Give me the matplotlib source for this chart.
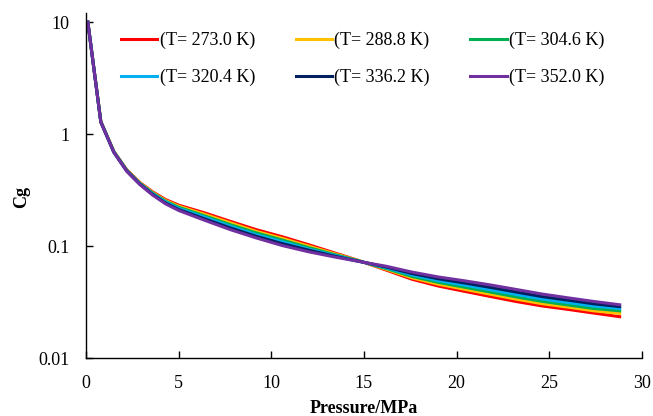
import matplotlib
matplotlib.use('Agg')
import matplotlib.pyplot as plt
from matplotlib.ticker import FixedLocator, FuncFormatter, NullLocator

plt.rcParams['font.family'] = ['Liberation Serif', 'DejaVu Serif']

# pression (MPa)
pressure = [0.1, 0.8, 1.5, 2.2, 2.9, 3.6, 4.3, 5.0, 6.4, 7.8, 9.2, 10.6, 12.0,
            13.4, 14.8, 16.2, 17.6, 19.0, 20.4, 21.8, 23.2, 24.6, 26.0, 27.4, 28.8]

labels = ['(T= 273.0 K)', '(T= 288.8 K)', '(T= 304.6 K)',
          '(T= 320.4 K)', '(T= 336.2 K)', '(T= 352.0 K)']
colors = ['#FF0000', '#FFC000', '#00B050', '#00B0F0', '#002060', '#7030A0']

cg_273 = [10.0, 1.30, 0.70, 0.480, 0.370, 0.305, 0.260, 0.232, 0.198, 0.166, 0.140, 0.121, 0.103,
          0.087, 0.0735, 0.061, 0.0505, 0.0440, 0.0395, 0.0355, 0.0320, 0.0292, 0.0272, 0.0252, 0.0234]
cg_288 = [10.0, 1.30, 0.70, 0.477, 0.367, 0.301, 0.255, 0.227, 0.192, 0.161, 0.135, 0.117, 0.100,
          0.0855, 0.0733, 0.062, 0.0520, 0.0457, 0.0412, 0.0372, 0.0336, 0.0306, 0.0285, 0.0264, 0.0250]
cg_304 = [10.0, 1.29, 0.70, 0.474, 0.364, 0.297, 0.251, 0.222, 0.186, 0.155, 0.131, 0.113, 0.097,
          0.084, 0.0731, 0.063, 0.0535, 0.0474, 0.0430, 0.0389, 0.0352, 0.0321, 0.0298, 0.0277, 0.0264]
cg_320 = [10.0, 1.29, 0.69, 0.471, 0.361, 0.293, 0.247, 0.217, 0.181, 0.150, 0.126, 0.109, 0.094,
          0.0826, 0.0729, 0.064, 0.0552, 0.0492, 0.0449, 0.0408, 0.0370, 0.0337, 0.0313, 0.0291, 0.0277]
cg_336 = [10.0, 1.28, 0.69, 0.468, 0.358, 0.289, 0.242, 0.212, 0.175, 0.145, 0.122, 0.105, 0.092,
          0.0813, 0.0727, 0.065, 0.0568, 0.0511, 0.0469, 0.0428, 0.0389, 0.0354, 0.0329, 0.0305, 0.0288]
cg_352 = [10.0, 1.28, 0.69, 0.465, 0.355, 0.285, 0.238, 0.208, 0.170, 0.140, 0.118, 0.101, 0.089,
          0.080, 0.0725, 0.066, 0.0585, 0.0530, 0.0490, 0.0450, 0.0410, 0.0373, 0.0345, 0.0320, 0.0299]
series = [cg_273, cg_288, cg_304, cg_320, cg_336, cg_352]

fig = plt.figure(figsize=(6.53, 4.16), dpi=100)
ax = fig.add_axes([0.1317, 0.1394, 0.983 - 0.1317, 0.968 - 0.1394])

lines = []
for vals, lab, col in zip(series, labels, colors):
    l, = ax.plot(pressure, vals, color=col, lw=2.2, label=lab)
    lines.append(l)

ax.set_yscale('log')
ax.set_xlim(0, 30)
ax.set_ylim(0.01, 12)
ax.set_xticks([0, 5, 10, 15, 20, 25, 30])
ax.yaxis.set_major_locator(FixedLocator([0.01, 0.1, 1, 10]))
ax.yaxis.set_minor_locator(NullLocator())
ax.yaxis.set_major_formatter(FuncFormatter(lambda v, p: '%g' % v))

for s in ['top', 'right']:
    ax.spines[s].set_visible(False)
ax.spines['left'].set_linewidth(1.0)
ax.spines['bottom'].set_linewidth(1.0)
ax.tick_params(axis='x', direction='in', length=5, width=1, labelsize=13, pad=12)
ax.tick_params(axis='y', direction='in', length=5, width=1, labelsize=13, pad=12)

ax.set_xlabel('Pressure/MPa', fontsize=13, fontweight='bold', labelpad=6)
ax.set_ylabel('Cg', fontsize=13, fontweight='bold')
ax.yaxis.set_label_coords(-0.101, 0.467)

# ordre par lignes (3 colonnes, 2 lignes)
order = [0, 3, 1, 4, 2, 5]
ax.legend([lines[i] for i in order], [labels[i] for i in order],
          ncol=3, frameon=False, fontsize=13, loc='upper left',
          bbox_to_anchor=(0.16, 0.962), bbox_transform=fig.transFigure,
          handlelength=2.0, handletextpad=0.15, columnspacing=2.25, labelspacing=1.08)

plt.savefig('out.png', dpi=100)
